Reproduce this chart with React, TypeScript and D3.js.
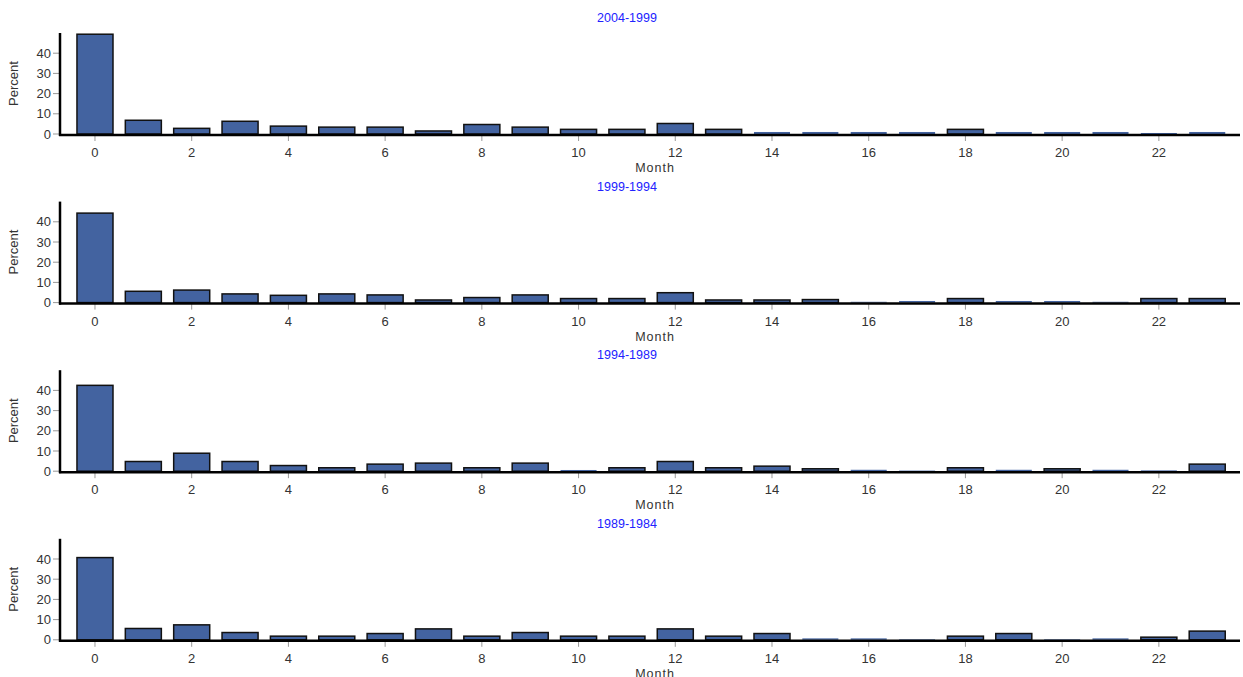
import React from "react";
import * as d3 from "d3";

const months: number[] = d3.range(0, 24);
const panelTitles: string[] = ["2004-1999", "1999-1994", "1994-1989", "1989-1984"];

const p2004_1999: number[] = [49.4, 6.8, 2.8, 6.3, 3.9, 3.4, 3.4, 1.5, 4.7, 3.4, 2.3, 2.3, 5.2, 2.3, 1.0, 1.0, 1.0, 1.0, 2.3, 1.0, 1.0, 1.0, 0.5, 1.0];
const p1999_1994: number[] = [44.3, 5.6, 6.2, 4.3, 3.6, 4.3, 3.8, 1.3, 2.5, 3.8, 2.0, 2.0, 4.9, 1.3, 1.3, 1.5, 0.4, 0.8, 2.0, 0.8, 0.8, 0.4, 2.0, 2.0];
const p1994_1989: number[] = [42.5, 4.8, 8.9, 4.8, 2.8, 1.7, 3.5, 4.0, 1.7, 4.0, 0.6, 1.7, 4.8, 1.7, 2.5, 1.2, 0.7, 0.3, 1.7, 0.7, 1.2, 0.7, 0.4, 3.5];
const p1989_1984: number[] = [40.7, 5.6, 7.4, 3.6, 1.8, 1.8, 3.1, 5.4, 1.8, 3.6, 1.8, 1.8, 5.4, 1.8, 3.1, 0.7, 0.7, 0.3, 1.8, 3.1, 0.3, 0.7, 1.3, 4.3];
const panelValues: number[][] = [p2004_1999, p1999_1994, p1994_1989, p1989_1984];

const yTicks: number[] = [0, 10, 20, 30, 40];
const xTicks: number[] = [0, 2, 4, 6, 8, 10, 12, 14, 16, 18, 20, 22];

const W = 1243;
const H = 677;
const FONT = "Arial, 'Liberation Sans', sans-serif";

function Panel({ values, title, offset }: { values: number[]; title: string; offset: number }) {
  const axisX = 60;
  const axisRight = 1240;
  const zeroY = 134 + offset;
  const topY = 33 + offset;
  const x = d3
    .scaleBand<number>()
    .domain(months)
    .range([70.8, 1231.4])
    .paddingInner(0.255)
    .paddingOuter(0.1275);
  const y = d3.scaleLinear().domain([0, 50]).range([zeroY, topY]);
  const bw = x.bandwidth();
  return (
    <g>
      <text x={627} y={22 + offset} textAnchor="middle" fill="#2222ff" fontSize={12.5} fontFamily={FONT}>
        {title}
      </text>
      {values.map((v, i) => {
        const h = zeroY - y(v);
        const stroked = h >= 2.3;
        return (
          <rect
            key={i}
            x={x(i)!}
            y={y(v)}
            width={bw}
            height={Math.max(h, 0)}
            fill="#4363a0"
            stroke={stroked ? "#111" : "none"}
            strokeWidth={1.5}
          />
        );
      })}
      {yTicks.map((t) => (
        <g key={t}>
          <line x1={axisX - 7} x2={axisX} y1={y(t)} y2={y(t)} stroke="#999" strokeWidth={1} />
          <text x={axisX - 9} y={y(t) + 4.5} textAnchor="end" fontSize={13} fill="#333" fontFamily={FONT}>
            {t}
          </text>
        </g>
      ))}
      {xTicks.map((t) => {
        const cx = x(t)! + bw / 2;
        return (
          <g key={t}>
            <line x1={cx} x2={cx} y1={zeroY + 1} y2={zeroY + 7} stroke="#999" strokeWidth={1} />
            <text x={cx} y={zeroY + 23} textAnchor="middle" fontSize={13} fill="#333" fontFamily={FONT}>
              {t}
            </text>
          </g>
        );
      })}
      <line x1={axisX} x2={axisX} y1={topY} y2={zeroY + 2} stroke="#000" strokeWidth={2.5} />
      <line x1={axisX - 1} x2={axisRight} y1={zeroY + 1} y2={zeroY + 1} stroke="#000" strokeWidth={2.5} />
      <text x={655} y={zeroY + 38} textAnchor="middle" fontSize={12.5} fill="#333" fontFamily={FONT} letterSpacing={1}>
        Month
      </text>
      <text
        transform={`translate(18, ${(zeroY + topY) / 2}) rotate(-90)`}
        textAnchor="middle"
        fontSize={13}
        fill="#333"
        fontFamily={FONT}
      >
        Percent
      </text>
    </g>
  );
}

export default function App() {
  return (
    <svg width={W} height={H} style={{ position: "absolute", left: 0, top: 0, background: "#fff" }}>
      {panelValues.map((vals, k) => (
        <Panel key={k} values={vals} title={panelTitles[k]} offset={k * 168.6} />
      ))}
    </svg>
  );
}
